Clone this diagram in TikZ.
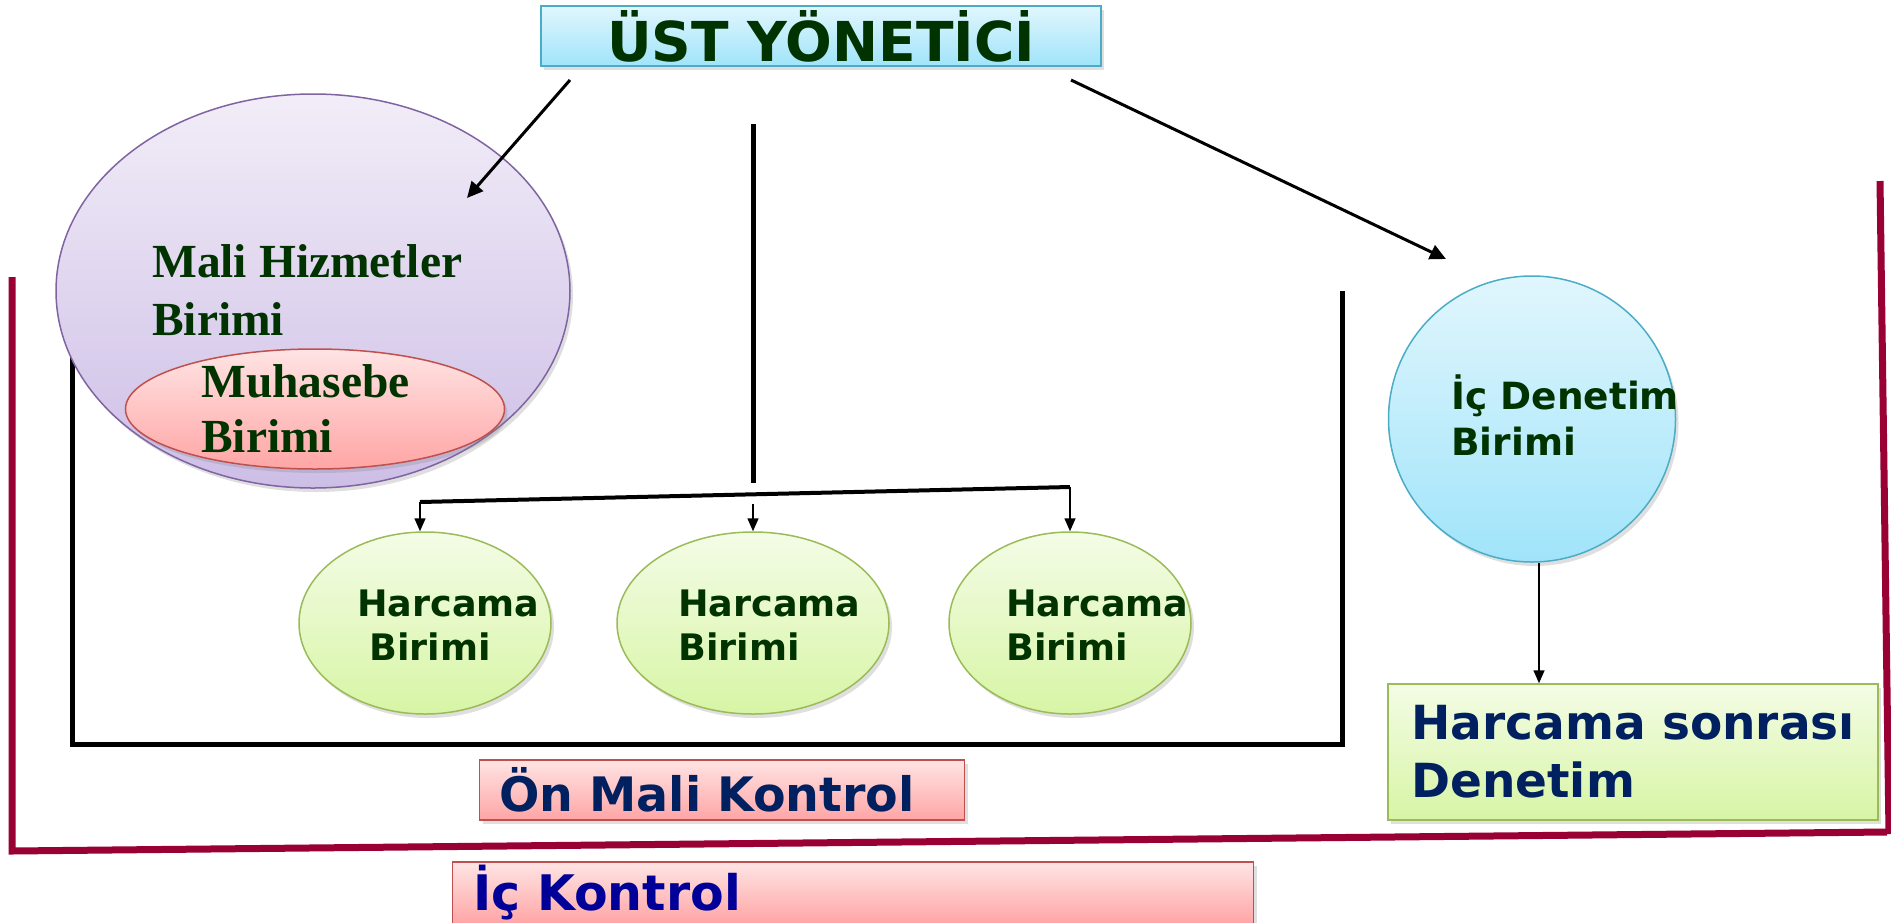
\documentclass[tikz,border=0pt]{standalone}
\usepackage{fontspec}
\setmainfont{DejaVu Sans}
\newfontfamily\serifbold{Liberation Serif}
\usetikzlibrary{shapes,arrows.meta,shadows}

\definecolor{dkgreen}{RGB}{0,51,0}
\definecolor{navy}{RGB}{0,32,96}
\definecolor{ickblue}{RGB}{0,0,153}
\definecolor{crimson}{RGB}{153,0,51}
\definecolor{cyantop}{RGB}{225,246,253}
\definecolor{cyanbot}{RGB}{160,228,250}
\definecolor{cyanline}{RGB}{75,172,198}
\definecolor{lilatop}{RGB}{242,237,248}
\definecolor{lilabot}{RGB}{205,190,230}
\definecolor{lilaline}{RGB}{128,100,162}
\definecolor{pinktop}{RGB}{255,228,228}
\definecolor{pinkbot}{RGB}{255,165,165}
\definecolor{pinkline}{RGB}{192,80,77}
\definecolor{greentop}{RGB}{244,252,230}
\definecolor{greenbot}{RGB}{215,245,165}
\definecolor{greenline}{RGB}{155,187,89}

\begin{document}
\begin{tikzpicture}[x=1pt,y=-1pt,
  softshadow/.style={drop shadow={opacity=0.25,shadow xshift=3pt,shadow yshift=-4pt}},
  cyanfill/.style={draw=cyanline,top color=cyantop,bottom color=cyanbot},
  lilafill/.style={draw=lilaline,top color=lilatop,bottom color=lilabot},
  pinkfill/.style={draw=pinkline,top color=pinktop,bottom color=pinkbot},
  greenfill/.style={draw=greenline,top color=greentop,bottom color=greenbot},
  unit/.style={ellipse,line width=1.5pt,inner sep=0pt,softshadow},
  labelbox/.style={rectangle,line width=1.5pt,inner sep=0pt,softshadow},
  txt/.style={inner sep=0pt,anchor=west,align=left,text=dkgreen},
  harctxt/.style={txt,font=\fontsize{36.5}{44}\selectfont\bfseries},
  thickline/.style={line width=5pt},
  arr/.style={line width=3pt,-{Triangle[length=16pt,width=15pt]}},
  smallarr/.style={line width=1.5pt,-{Triangle[length=13pt,width=11pt]}},
  redline/.style={crimson,line width=7pt}]

\useasboundingbox (0,0) rectangle (1891,922);

% frames
\draw[redline] (12,277) -- (12,851) -- (1887,832);
\draw[redline] (1880,181) -- (1889,834);
\draw[thickline] (72,352) -- (72,744) -- (1342,744) -- (1342,291);

% units
\node (ust) at (821,36)[labelbox,cyanfill,minimum width=560pt,minimum height=60pt,
  text=dkgreen,font=\fontsize{55}{60}\selectfont\bfseries] {ÜST YÖNETİCİ};
\node (mali) at (313,291)[unit,lilafill,minimum width=514pt,minimum height=394pt] {};
\node (muh) at (315,409)[unit,pinkfill,minimum width=379pt,minimum height=120pt] {};
\node (malitxt) at (152,290)[txt,font=\fontsize{47.5}{58}\selectfont\serifbold\bfseries] {Mali Hizmetler\\Birimi};
\node (muhtxt) at (201,409)[txt,font=\fontsize{47.5}{55}\selectfont\serifbold\bfseries] {Muhasebe\\Birimi};

\node (h1) at (425,623)[unit,greenfill,minimum width=252pt,minimum height=182pt] {};
\node (h2) at (753,623)[unit,greenfill,minimum width=272pt,minimum height=182pt] {};
\node (h3) at (1070,623)[unit,greenfill,minimum width=242pt,minimum height=182pt] {};
\node (h1txt) at (357,625)[harctxt] {Harcama\\\hspace*{12pt}Birimi};
\node (h2txt) at (678,625)[harctxt] {Harcama\\Birimi};
\node (h3txt) at (1006,625)[harctxt] {Harcama\\Birimi};

\node (icd) at (1532,419)[unit,cyanfill,minimum width=287pt,minimum height=286pt] {};
\node (icdtxt) at (1451,415)[txt,font=\fontsize{37.5}{46}\selectfont\bfseries] {İç Denetim\\Birimi};

\node (hsd) at (1633,752)[labelbox,greenfill,minimum width=490pt,minimum height=136pt,
  align=left,text=navy,font=\fontsize{47}{58}\selectfont\bfseries] {Harcama sonrası\\Denetim};
\node (onmali) at (722,790)[labelbox,pinkfill,minimum width=485pt,minimum height=60pt,
  inner xsep=20pt,text width=445pt,align=left,text=navy,font=\fontsize{47.5}{52}\selectfont\bfseries] {Ön Mali Kontrol};
\node (ick) at (853,893)[labelbox,pinkfill,minimum width=801pt,minimum height=62pt,
  inner xsep=21pt,text width=759pt,align=left,text=ickblue,font=\fontsize{49}{56}\selectfont\bfseries] {İç Kontrol};

% connectors
\coordinate (a1s) at (570,80);
\coordinate (a1e) at (467,198);
\coordinate (a2s) at (1071,80);
\coordinate (a2e) at (1446,259);
\coordinate (vtop) at (753,124);
\coordinate (vbot) at (753,483);
\coordinate (barl) at (420,502);
\coordinate (barr) at (1070,487);
\coordinate (barm) at (753,504);

\draw[arr] (a1s) -- (a1e);
\draw[arr] (a2s) -- (a2e);
\draw[thickline] (vtop) -- (vbot);
\draw[line width=4pt] (barl) -- (barr);
\draw[smallarr] (barl) -- (barl |- h1.north);
\draw[smallarr] (barm) -- (h2.north);
\draw[smallarr] (barr) -- (h3.north);
\draw[smallarr] ([xshift=7pt]icd.south) -- ([xshift=7pt]icd.south |- hsd.north);
\end{tikzpicture}
\end{document}
